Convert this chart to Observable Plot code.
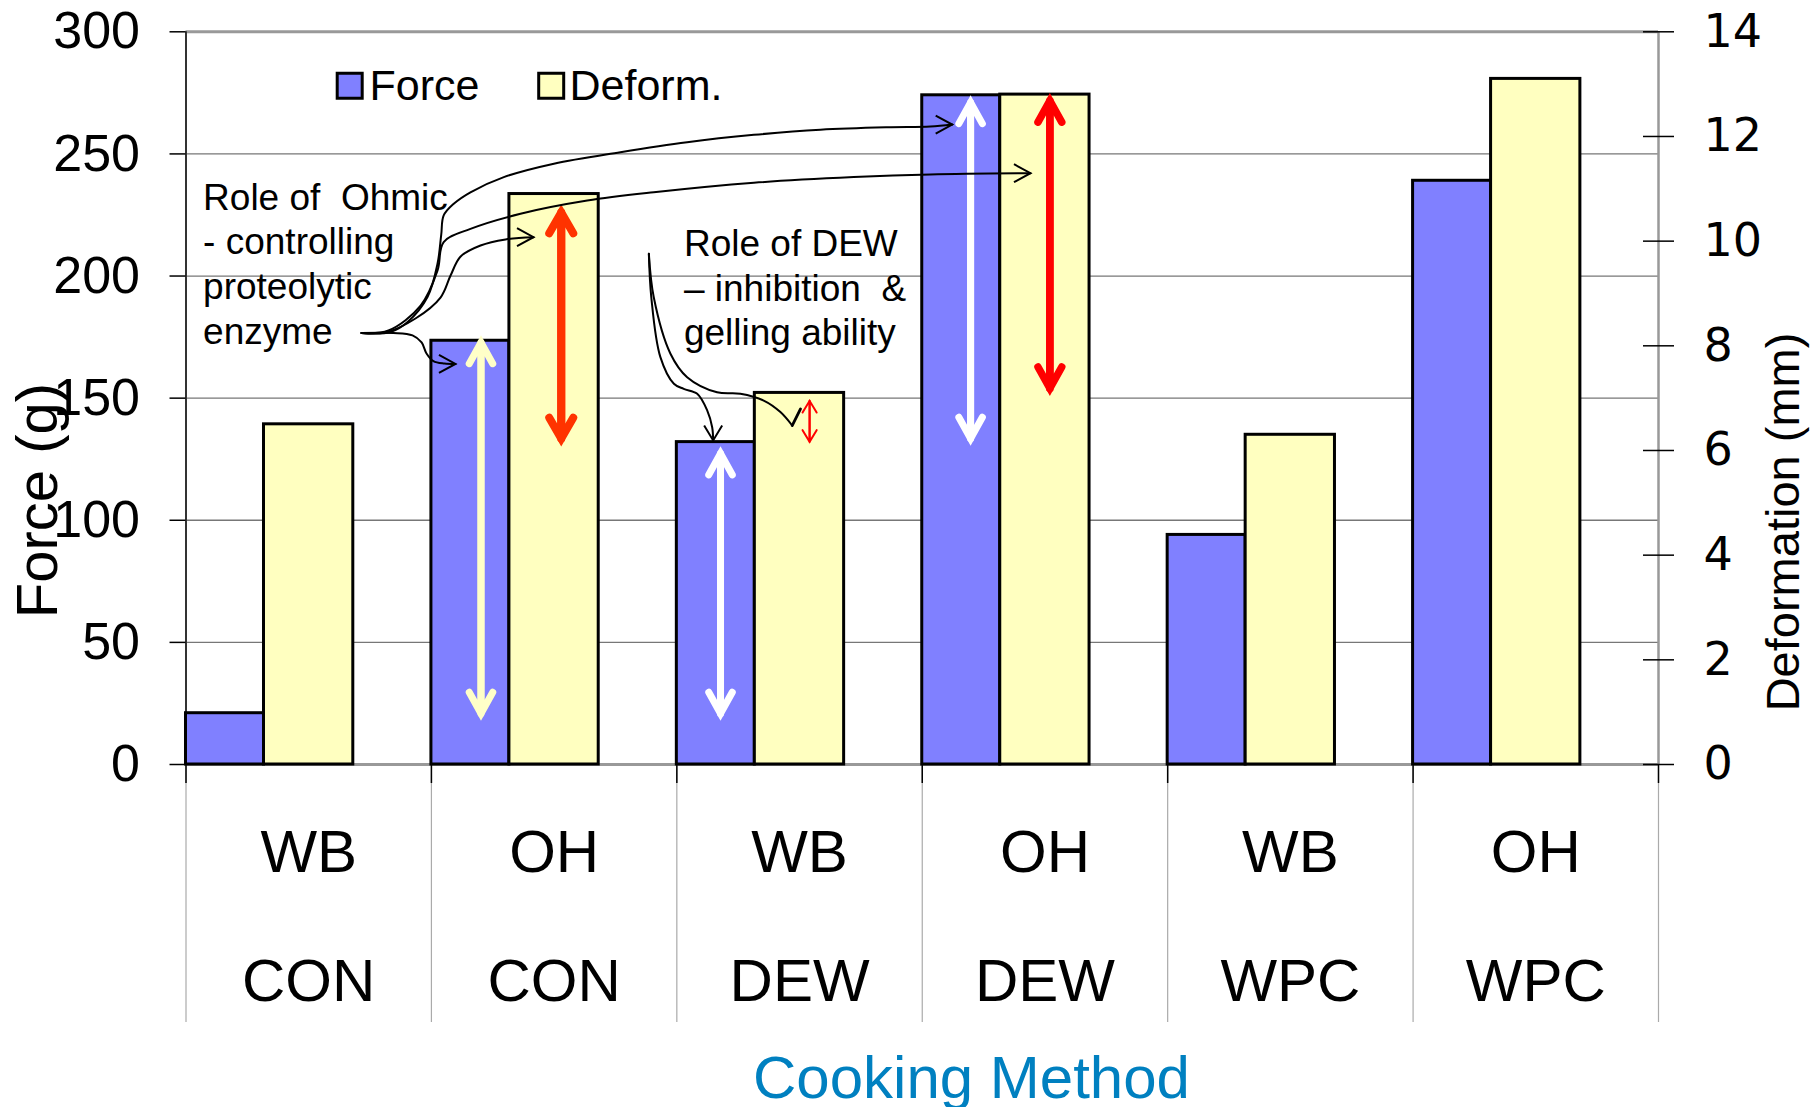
<!DOCTYPE html>
<html><head><meta charset="utf-8">
<script src="https://cdn.jsdelivr.net/npm/d3@7"></script>
<script src="https://cdn.jsdelivr.net/npm/@observablehq/plot@0.6"></script>
<style>html,body{margin:0;padding:0;background:#fff;} #chart svg{display:block;}</style>
</head><body><div id="chart"></div>
<script>
// ---------- data ----------
const methods = ["WB", "OH", "WB", "OH", "WB", "OH"];
const groups = ["CON", "CON", "DEW", "DEW", "WPC", "WPC"];
const force = [21, 173.5, 132, 274, 94, 239];            // g (left axis)
const deformation = [6.5, 10.9, 7.1, 12.8, 6.3, 13.1];   // mm (right axis)
const forceTicks = [0, 50, 100, 150, 200, 250, 300];
const deformTicks = [0, 2, 4, 6, 8, 10, 12, 14];
const legendLabels = ["Force", "Deform."];
const forceTitle = "Force (g)";
const deformTitle = "Deformation (mm)";
const xTitle = "Cooking Method";

// annotations (x = category position, y = force units)
const noteOhmic = "Role of\u00a0 Ohmic\n- controlling\nproteolytic\nenzyme";
const noteDEW = "Role of DEW\n\u2013 inhibition\u00a0 &\ngelling ability";
const notes = [
  {text: noteOhmic, x: 0.0697, y: 240.2},
  {text: noteDEW, x: 2.029, y: 221.3}
];
const arrowSpans = [
  {kind: "cream", x: 1.202, lo: 20.9, hi: 172.8},
  {kind: "orange", x: 1.529, lo: 133.5, hi: 226.0},
  {kind: "white", x: 2.178, lo: 20.9, hi: 127.3},
  {kind: "thinRed", x: 2.541, lo: 132.1, hi: 148.9},
  {kind: "white", x: 3.197, lo: 133.5, hi: 271.1},
  {kind: "red", x: 3.520, lo: 154.0, hi: 271.8}
];
const curveA = [[0.715,176.7],[0.845,176.7],[0.923,175.7],[0.960,172.8],[0.980,168.3],[1.008,165.2],[1.053,164.2],[1.098,164.0]];
const curveB = [[0.715,176.7],[0.813,176.9],[0.935,182.6],[1.037,191.2],[1.078,200.2],[1.119,208.0],[1.200,212.5],[1.302,215.0],[1.416,215.9]];
const curveC = [[0.715,176.7],[0.833,177.1],[0.903,181.2],[0.984,191.4],[1.025,205.1],[1.040,217.0],[1.050,224.8],[1.091,229.6],[1.159,234.3],[1.295,240.5],[1.499,246.0],[1.770,250.7],[2.042,254.8],[2.314,257.8],[2.585,259.9],[2.857,260.9],[3.033,261.2],[3.122,262.0]];
const curveD = [[0.715,176.7],[0.825,177.7],[0.956,187.9],[1.025,202.3],[1.050,213.9],[1.159,219.3],[1.363,225.5],[1.635,230.9],[1.906,234.3],[2.314,238.2],[2.721,240.5],[3.033,241.6],[3.441,242.1]];
const curveE = [[1.886,209.1],[1.896,191.3],[1.933,166.8],[1.988,155.9],[2.028,153.8],[2.083,151.8],[2.124,144.9],[2.144,138.1],[2.148,132.7]];
const curveF = [[1.886,209.1],[1.906,191.3],[1.974,168.2],[2.042,158.6],[2.164,152.4],[2.259,151.8],[2.354,149.0],[2.422,144.3],[2.470,138.8]];
const checkF = [[2.470,138.8],[2.504,145.6]];
const headsRight = [[1.098,164.0],[1.416,215.9],[3.122,262.0],[3.441,242.1]];
const headsDown = [[2.148,132.7]];

// ---------- layout ----------
const W = 1818, H = 1107;
const mL = 185.5, mR = 160, mT = 31.3, mB = 343;
const frameW = W - mL - mR, frameH = H - mT - mB;
const bandPx = frameW / methods.length;
const forceBarPx = 78, deformEndPx = 167.3;
const k = 300 / 14; // mm -> force-axis units
const idx = d3.range(methods.length);
const SANS = "'Liberation Sans', Arial, Helvetica, sans-serif";

const flat = (curves) => curves.flatMap(([id, pts]) => pts.map(([x, y]) => ({id, x, y})));
const connectors = flat([["A", curveA], ["B", curveB], ["C", curveC], ["D", curveD], ["E", curveE], ["F", curveF]]);

const chevronRight = {draw(ctx) { ctx.moveTo(-16.5, -9); ctx.lineTo(0, 0); ctx.lineTo(-16.5, 9); }};
const chevronDown = {draw(ctx) { ctx.moveTo(-9, -15); ctx.lineTo(0, 0); ctx.lineTo(9, -15); }};

function doubleArrow(kind, opts) {
  const data = arrowSpans.filter(d => d.kind === kind);
  const base = {strokeLinecap: "round", strokeLinejoin: "miter", strokeMiterlimit: 4, ...opts};
  return [
    Plot.arrow(data, {x: "x", y1: "lo", y2: "hi", ...base}),
    Plot.arrow(data, {x: "x", y1: "hi", y2: "lo", ...base})
  ];
}

const chart = Plot.plot({
  width: W, height: H,
  marginLeft: mL, marginRight: mR, marginTop: mT, marginBottom: mB,
  x: {domain: [0, methods.length], axis: null},
  y: {domain: [0, 300], axis: null},
  style: {fontFamily: SANS, background: "#fff", color: "#000", overflow: "visible"},
  marks: [
    // grid & frame
    Plot.ruleY(forceTicks.filter(t => t > 0 && t < 300), {stroke: "#777", strokeWidth: 1.3}),
    Plot.ruleY([300], {stroke: "#999", strokeWidth: 3}),
    Plot.ruleY([0], {stroke: "#999", strokeWidth: 3}),
    Plot.ruleX([methods.length], {stroke: "#999", strokeWidth: 2.5}),
    Plot.ruleX([0], {stroke: "#333", strokeWidth: 2}),
    // category dividers below the axis
    Plot.ruleX(d3.range(methods.length + 1), {stroke: "#aaa", strokeWidth: 1.2, insetTop: frameH, insetBottom: -258}),
    Plot.ruleX(d3.range(methods.length + 1), {stroke: "#000", strokeWidth: 1.5, insetTop: frameH, insetBottom: -19}),
    // right-axis ticks crossing the frame
    Plot.ruleY(deformTicks, {y: d => d * k, insetLeft: frameW - 15, insetRight: -16, stroke: "#000", strokeWidth: 1.5}),
    // bars
    Plot.rectY(idx, {x1: i => i, x2: i => i + 1, y1: 0, y2: i => force[i],
      insetRight: bandPx - forceBarPx, fill: "#8080FF", stroke: "#000", strokeWidth: 3}),
    Plot.rectY(idx, {x1: i => i, x2: i => i + 1, y1: 0, y2: i => deformation[i] * k,
      insetLeft: forceBarPx, insetRight: bandPx - deformEndPx, fill: "#FFFFC0", stroke: "#000", strokeWidth: 3}),
    // axes
    Plot.axisY(forceTicks, {anchor: "left", tickSize: 16, tickPadding: 30, fontSize: 52, strokeWidth: 1.5, label: null}),
    Plot.axisY(deformTicks, {anchor: "right", y: d => d * k, text: d => String(d), tickSize: 0, tickPadding: 45,
      fontSize: 46, fontFamily: "'DejaVu Sans', sans-serif", label: null}),
    Plot.axisX(idx, {anchor: "bottom", x: i => i + 0.5, text: i => methods[i], tickSize: 0, tickPadding: 65, fontSize: 60, label: null}),
    Plot.axisX(idx, {anchor: "bottom", x: i => i + 0.5, text: i => groups[i], tickSize: 0, tickPadding: 194, fontSize: 60, label: null}),
    // axis titles
    Plot.text([forceTitle], {text: d => d, frameAnchor: "left", rotate: -90, textAnchor: "middle", lineAnchor: "bottom",
      dx: 56 - mL, dy: 500 - (mT + frameH / 2), fontSize: 58}),
    Plot.text([deformTitle], {text: d => d, frameAnchor: "right", rotate: -90, textAnchor: "middle", lineAnchor: "bottom",
      dx: 1798 - (W - mR), dy: 521.5 - (mT + frameH / 2), fontSize: 47}),
    Plot.text([xTitle], {text: d => d, frameAnchor: "bottom", lineAnchor: "bottom",
      dx: 971 - (mL + frameW / 2), dy: 1097 - (H - mB), fontSize: 60, fill: "#0080C0"}),
    // legend
    Plot.dot([legendLabels[0]], {frameAnchor: "top-left", dx: 163.7, dy: 53.9, symbol: "square", r: 14.1,
      fill: "#8080FF", stroke: "#000", strokeWidth: 3}),
    Plot.text([legendLabels[0]], {text: d => d, frameAnchor: "top-left", dx: 183.5, dy: 68.2,
      textAnchor: "start", lineAnchor: "bottom", fontSize: 43}),
    Plot.dot([legendLabels[1]], {frameAnchor: "top-left", dx: 365.2, dy: 53.9, symbol: "square", r: 14.1,
      fill: "#FFFFC0", stroke: "#000", strokeWidth: 3}),
    Plot.text([legendLabels[1]], {text: d => d, frameAnchor: "top-left", dx: 383.5, dy: 68.2,
      textAnchor: "start", lineAnchor: "bottom", fontSize: 43}),
    // span arrows
    ...doubleArrow("cream", {stroke: "#FFFFC8", strokeWidth: 7, headLength: 5.2, headAngle: 58}),
    ...doubleArrow("orange", {stroke: "#FF3300", strokeWidth: 8, headLength: 4.5, headAngle: 60}),
    ...doubleArrow("white", {stroke: "#FFFFFF", strokeWidth: 7, headLength: 5.2, headAngle: 58}),
    ...doubleArrow("thinRed", {stroke: "#FF0000", strokeWidth: 2, headLength: 13, headAngle: 62}),
    ...doubleArrow("red", {stroke: "#FF0000", strokeWidth: 7.5, headLength: 4.9, headAngle: 58}),
    // annotation text
    Plot.text(notes, {x: "x", y: "y", text: "text", textAnchor: "start", lineAnchor: "top", lineHeight: 1.21, fontSize: 37}),
    // connectors
    Plot.line(connectors, {x: "x", y: "y", z: "id", curve: "catmull-rom", stroke: "#000", strokeWidth: 2}),
    Plot.line(checkF, {x: d => d[0], y: d => d[1], stroke: "#000", strokeWidth: 2.8}),
    Plot.dot(headsRight, {x: d => d[0], y: d => d[1], symbol: chevronRight, fill: "none", stroke: "#000", strokeWidth: 2, strokeLinejoin: "miter"}),
    Plot.dot(headsDown, {x: d => d[0], y: d => d[1], symbol: chevronDown, fill: "none", stroke: "#000", strokeWidth: 2, strokeLinejoin: "miter"})
  ]
});
document.getElementById("chart").appendChild(chart);
</script>
</body></html>
